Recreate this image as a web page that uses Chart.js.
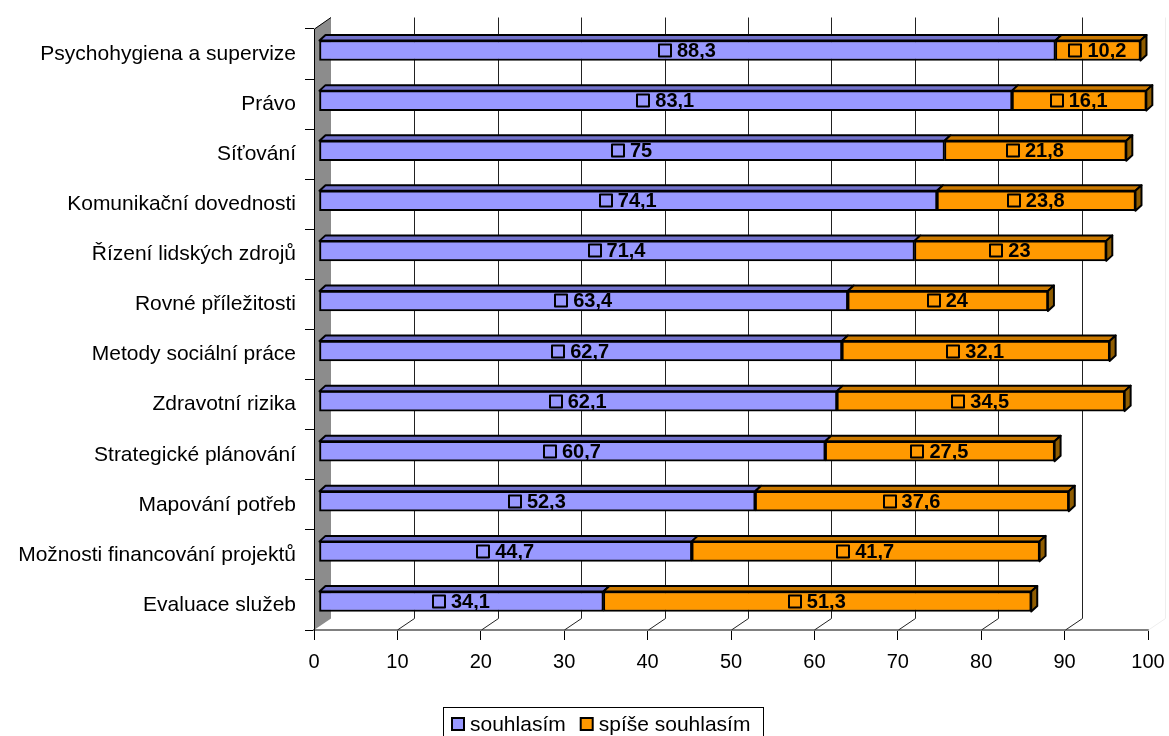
<!DOCTYPE html>
<html>
<head>
<meta charset="utf-8">
<script src="https://cdn.jsdelivr.net/npm/chart.js@4/dist/chart.umd.min.js"></script>
<style>
  html, body { margin: 0; padding: 0; background: #fff; }
  #wrap { width: 1169px; height: 736px; }
</style>
</head>
<body>
<div id="wrap"><canvas id="chart" width="1169" height="736"></canvas></div>
<script>
const categories = [
    "Psychohygiena a supervize",
    "Právo",
    "Síťování",
    "Komunikační dovednosti",
    "Řízení lidských zdrojů",
    "Rovné příležitosti",
    "Metody sociální práce",
    "Zdravotní rizika",
    "Strategické plánování",
    "Mapování potřeb",
    "Možnosti financování projektů",
    "Evaluace služeb",
];
const souhlasim = [88.3, 83.1, 75, 74.1, 71.4, 63.4, 62.7, 62.1, 60.7, 52.3, 44.7, 34.1];
const spiseSouhlasim = [10.2, 16.1, 21.8, 23.8, 23, 24, 32.1, 34.5, 27.5, 37.6, 41.7, 51.3];
const xTicks = [0, 10, 20, 30, 40, 50, 60, 70, 80, 90, 100];

const FONT = '"Liberation Sans", Arial, sans-serif';

// 3D look: depth of the back wall, of the bars, and where the bars sit in it
const WALL_DX = 17, WALL_DY = -11.5;
const BAR_DX = 6, BAR_DY = -5.5;
const SHIFT_X = 5, SHIFT_Y = -3.5;

const fmt = v => String(v).replace('.', ',');

const threeD = {
    id: 'threeD',
    beforeDatasetsDraw(chart) {
        const ctx = chart.ctx;
        const area = chart.chartArea;
        const xs = chart.scales.x;
        ctx.save();
        // left wall
        ctx.fillStyle = '#8c8c8c';
        ctx.beginPath();
        ctx.moveTo(area.left, area.bottom);
        ctx.lineTo(area.left, area.top);
        ctx.lineTo(area.left + WALL_DX, area.top + WALL_DY);
        ctx.lineTo(area.left + WALL_DX, area.bottom + WALL_DY);
        ctx.closePath();
        ctx.fill();
        ctx.strokeStyle = '#000';
        ctx.lineWidth = 1;
        ctx.beginPath();
        ctx.moveTo(area.left + 0.5, area.bottom);
        ctx.lineTo(area.left + 0.5, area.top);
        ctx.lineTo(area.left + WALL_DX, area.top + WALL_DY);
        ctx.stroke();
        // back gridlines with floor diagonals
        xTicks.forEach(v => {
            if (v === 0) return;
            const px = Math.round(xs.getPixelForValue(v)) + 0.5;
            ctx.strokeStyle = v === 100 ? '#eeeeee' : '#222';
            ctx.beginPath();
            ctx.moveTo(px + WALL_DX, area.top + WALL_DY);
            ctx.lineTo(px + WALL_DX, area.bottom + WALL_DY);
            ctx.lineTo(px, area.bottom);
            ctx.stroke();
        });
        ctx.restore();
        ctx.save();
        ctx.translate(SHIFT_X, SHIFT_Y);
    },
    afterDatasetsDraw(chart) {
        const ctx = chart.ctx;
        const topColors = ['#7373cc', '#cc7a00'];
        const sideColor = '#8f5c00';
        const last = chart.data.datasets.length - 1;
        chart.data.datasets.forEach((ds, i) => {
            const meta = chart.getDatasetMeta(i);
            meta.data.forEach(bar => {
                const p = bar.getProps(['x', 'y', 'base', 'height'], true);
                const top = p.y - p.height / 2;
                const bottom = p.y + p.height / 2;
                ctx.lineWidth = 2;
                ctx.strokeStyle = '#000';
                ctx.lineJoin = 'round';
                ctx.fillStyle = topColors[i];
                ctx.beginPath();
                ctx.moveTo(p.base, top);
                ctx.lineTo(p.base + BAR_DX, top + BAR_DY);
                ctx.lineTo(p.x + BAR_DX, top + BAR_DY);
                ctx.lineTo(p.x, top);
                ctx.closePath();
                ctx.fill();
                ctx.stroke();
                if (i === last) {
                    ctx.fillStyle = sideColor;
                    ctx.beginPath();
                    ctx.moveTo(p.x, top);
                    ctx.lineTo(p.x + BAR_DX, top + BAR_DY);
                    ctx.lineTo(p.x + BAR_DX, bottom + BAR_DY);
                    ctx.lineTo(p.x, bottom);
                    ctx.closePath();
                    ctx.fill();
                    ctx.stroke();
                }
            });
        });
        // value labels with the small legend key square
        ctx.font = 'bold 20px ' + FONT;
        ctx.textBaseline = 'middle';
        ctx.textAlign = 'left';
        chart.data.datasets.forEach((ds, i) => {
            const meta = chart.getDatasetMeta(i);
            meta.data.forEach((bar, j) => {
                const p = bar.getProps(['x', 'y', 'base'], true);
                const txt = fmt(ds.data[j]);
                const w = ctx.measureText(txt).width;
                const sq = 12, gap = 6;
                const start = (p.x + p.base) / 2 - (sq + gap + w) / 2;
                ctx.strokeStyle = '#000';
                ctx.lineWidth = 2;
                ctx.strokeRect(Math.round(start), Math.round(p.y - sq / 2), sq, sq);
                ctx.fillStyle = '#000';
                ctx.fillText(txt, start + sq + gap, p.y + 1);
            });
        });
        ctx.restore();
    },
    afterDraw(chart) {
        // legend in a framed box
        const ctx = chart.ctx;
        const boxLeft = 443, boxTop = 707, boxRight = 763;
        ctx.save();
        ctx.strokeStyle = '#000';
        ctx.lineWidth = 1;
        ctx.strokeRect(boxLeft + 0.5, boxTop + 0.5, boxRight - boxLeft, 40);
        ctx.font = '21px ' + FONT;
        ctx.textBaseline = 'middle';
        let x = boxLeft + 9;
        const cy = 724;
        chart.data.datasets.forEach(ds => {
            ctx.fillStyle = ds.backgroundColor;
            ctx.fillRect(x, cy - 6, 12, 12);
            ctx.strokeStyle = '#000';
            ctx.lineWidth = 2;
            ctx.strokeRect(x, cy - 6, 12, 12);
            ctx.fillStyle = '#000';
            ctx.fillText(ds.label, x + 18, cy + 1);
            x += 18 + ctx.measureText(ds.label).width + 15;
        });
        ctx.restore();
    },
};

new Chart(document.getElementById('chart'), {
    type: 'bar',
    data: {
        labels: categories,
        datasets: [
            {
                label: 'souhlasím',
                data: souhlasim,
                backgroundColor: '#9999ff',
                borderColor: '#000',
                borderWidth: 2,
                borderSkipped: false,
                barThickness: 20,
            },
            {
                label: 'spíše souhlasím',
                data: spiseSouhlasim,
                backgroundColor: '#ff9900',
                borderColor: '#000',
                borderWidth: 2,
                borderSkipped: false,
                barThickness: 20,
            },
        ],
    },
    options: {
        indexAxis: 'y',
        responsive: false,
        animation: false,
        layout: { padding: { top: 29, right: 21, bottom: 26, left: 0 } },
        plugins: {
            legend: { display: false },
            tooltip: { enabled: false },
        },
        scales: {
            x: {
                stacked: true,
                min: 0,
                max: 100,
                afterBuildTicks: s => { s.ticks = xTicks.map(v => ({ value: v })); },
                afterFit: s => {
                    s.height = 80;
                    s.paddingLeft = 0;
                    s.paddingRight = 0;
                },
                grid: { drawOnChartArea: false, tickLength: 10, color: '#000' },
                border: { color: '#808080', width: 2 },
                ticks: { color: '#000', padding: 10, font: { family: FONT, size: 20 } },
            },
            y: {
                stacked: true,
                afterFit: s => { s.width = 314; },
                grid: { drawOnChartArea: false, tickLength: 9, color: '#000', offset: true },
                border: { color: '#000', width: 1 },
                ticks: { color: '#000', padding: 9, font: { family: FONT, size: 21 } },
            },
        },
    },
    plugins: [threeD],
});
</script>
</body>
</html>
